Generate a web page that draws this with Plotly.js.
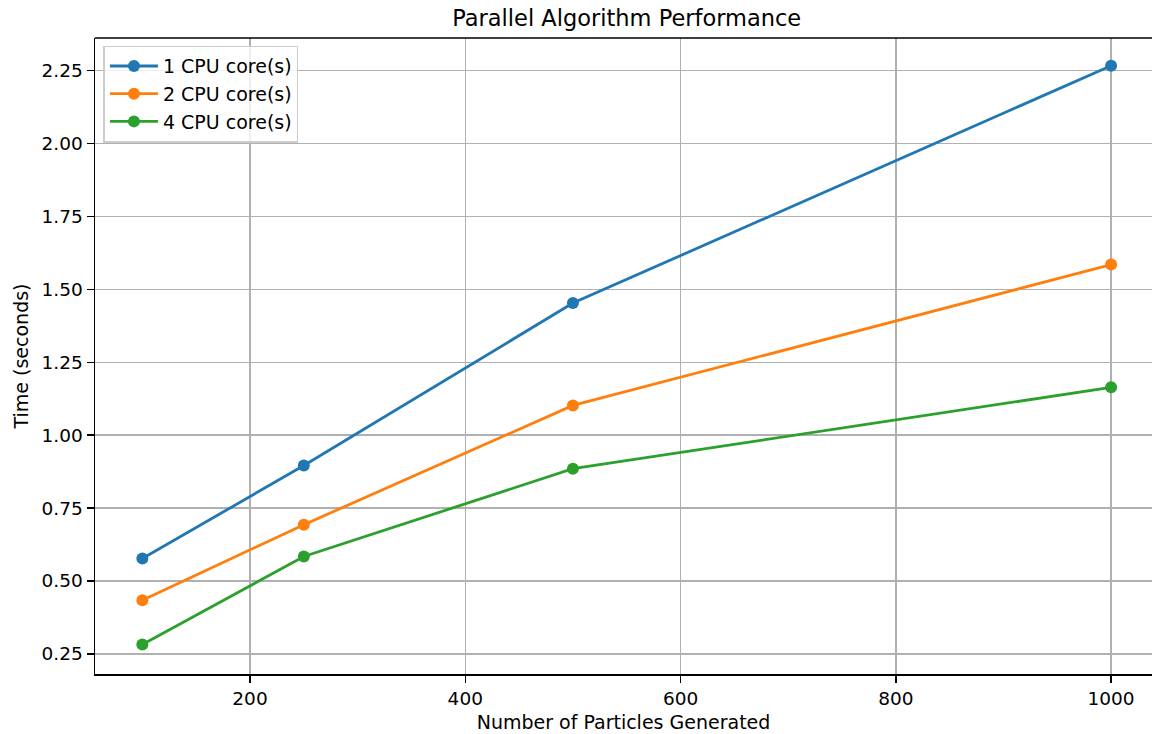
<!DOCTYPE html>
<html>
<head>
<meta charset="utf-8">
<script src="https://cdn.plot.ly/plotly-3.0.1.min.js"></script>
<style>html,body{margin:0;padding:0;background:#fff;}#chart{width:1152px;height:734px;}</style>
</head>
<body>
<div id="chart"></div>
<script>
const particles = [100, 250, 500, 1000];
const seriesNames = ['1 CPU core(s)', '2 CPU core(s)', '4 CPU core(s)'];
const time1 = [0.577, 0.896, 1.453, 2.267];
const time2 = [0.434, 0.693, 1.102, 1.585];
const time4 = [0.282, 0.584, 0.885, 1.164];
const colors = ['#1f77b4', '#ff7f0e', '#2ca02c'];
const xTicks = [200, 400, 600, 800, 1000];
const yTicks = [0.25, 0.50, 0.75, 1.00, 1.25, 1.50, 1.75, 2.00, 2.25];

const allSeries = [time1, time2, time4];
const traces = allSeries.map((ys, i) => ({
  x: particles, y: ys, name: seriesNames[i], type: 'scatter', mode: 'lines+markers',
  line: {color: colors[i], width: 2.8}, marker: {color: colors[i], size: 12}
}));

const fam = 'DejaVu Sans, sans-serif';
const tickFont = {family: fam, size: 18.5, color: '#000'};
const labelFont = {family: fam, size: 19, color: '#000'};
const layout = {
  width: 1152, height: 734,
  margin: {l: 95, r: 0, t: 38, b: 60},
  paper_bgcolor: '#fff', plot_bgcolor: '#fff',
  font: labelFont,
  title: {text: 'Parallel Algorithm Performance', font: {family: fam, size: 22.5, color: '#000'},
          xref: 'container', x: 0.544, xanchor: 'center', yref: 'container', y: 1 - 18/734, yanchor: 'middle'},
  xaxis: {
    range: [56, 1038], tickvals: xTicks, ticktext: xTicks.map(String),
    showgrid: true, gridcolor: '#b0b0b0', gridwidth: 1.5,
    showline: true, linecolor: '#000', linewidth: 1.5, zeroline: false,
    ticks: 'outside', ticklen: 7, tickwidth: 1.5, tickcolor: '#000', tickfont: tickFont,
    title: {text: 'Number of Particles Generated', font: labelFont, standoff: 8}
  },
  yaxis: {
    range: [0.181, 2.362], tickvals: yTicks, ticktext: yTicks.map(v => v.toFixed(2)),
    showgrid: true, gridcolor: '#b0b0b0', gridwidth: 1.5,
    showline: true, linecolor: '#000', linewidth: 1.5, zeroline: false,
    ticks: 'outside', ticklen: 7, tickwidth: 1.5, tickcolor: '#000', tickfont: tickFont,
    title: {text: 'Time (seconds)', font: labelFont, standoff: 8}
  },
  shapes: [{type: 'line', xref: 'paper', yref: 'paper', x0: 0, x1: 1, y0: 1, y1: 1, line: {color: '#000', width: 1.5}}],
  showlegend: true,
  legend: {
    x: 0.008, y: 0.988, xanchor: 'left', yanchor: 'top',
    bgcolor: 'rgba(255,255,255,0.8)', bordercolor: '#cccccc', borderwidth: 1.5,
    font: labelFont, tracegroupgap: 0, itemwidth: 48
  }
};
Plotly.newPlot('chart', traces, layout, {displayModeBar: false, staticPlot: true});
</script>
</body>
</html>
